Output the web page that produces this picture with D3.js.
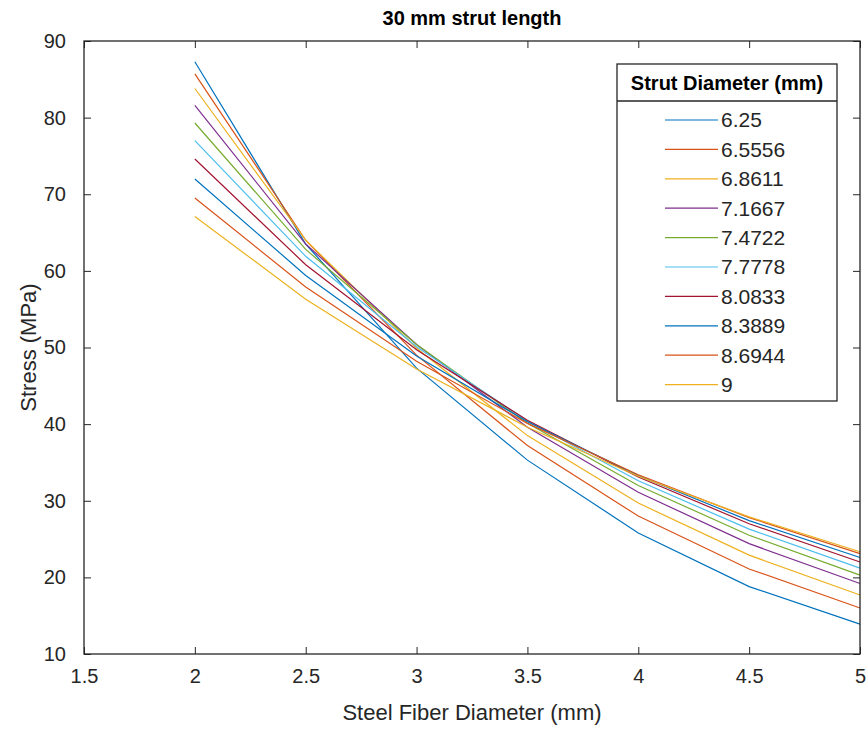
<!DOCTYPE html>
<html><head><meta charset="utf-8">
<script src="https://cdn.jsdelivr.net/npm/d3@7/dist/d3.min.js"></script>
<style>body{margin:0;background:#fff}svg{display:block;font-family:Arial,"Liberation Sans",sans-serif}</style>
</head><body><svg id="c" width="868" height="734"></svg>
<script>
const fiberDiameters = [2, 2.5, 3, 3.5, 4, 4.5, 5];
const strutDiameters = ["6.25","6.5556","6.8611","7.1667","7.4722","7.7778","8.0833","8.3889","8.6944","9"];
const s625  = [87.3, 63.5, 47.3, 35.3, 25.8, 18.8, 13.9];
const s6556 = [85.7, 64.0, 49.0, 37.2, 28.0, 21.1, 16.0];
const s6861 = [83.8, 64.0, 49.9, 38.5, 29.7, 22.9, 17.7];
const s7167 = [81.6, 63.5, 50.4, 39.6, 31.1, 24.4, 19.2];
const s7472 = [79.3, 62.8, 50.4, 40.1, 32.0, 25.5, 20.3];
const s7778 = [77.0, 61.9, 50.1, 40.4, 32.6, 26.3, 21.2];
const s8083 = [74.6, 60.8, 49.7, 40.5, 33.1, 27.0, 22.0];
const s8389 = [72.0, 59.4, 48.9, 40.3, 33.3, 27.4, 22.6];
const s8694 = [69.5, 57.9, 48.2, 40.1, 33.4, 27.8, 23.1];
const s9    = [67.1, 56.3, 47.2, 39.6, 33.2, 27.9, 23.35];
const seriesValues = [s625, s6556, s6861, s7167, s7472, s7778, s8083, s8389, s8694, s9];
const colors = ["#0072BD","#D95319","#EDB120","#7E2F8E","#77AC30","#4DBEEE","#A2142F","#0072BD","#D95319","#EDB120"];
const xTicks = [1.5, 2, 2.5, 3, 3.5, 4, 4.5, 5];
const yTicks = [10, 20, 30, 40, 50, 60, 70, 80, 90];

const svg = d3.select("#c");
const L = 84, R = 860, T = 41, B = 654;
const x = d3.scaleLinear().domain([1.5, 5]).range([L, R]);
const y = d3.scaleLinear().domain([10, 90]).range([B, T]);
const axisColor = "#262626";
const tickLen = 7;

// data lines
const line = d3.line().x((d, i) => x(fiberDiameters[i])).y(d => y(d));
svg.append("g").selectAll("path").data(seriesValues).join("path")
  .attr("d", d => line(d)).attr("fill", "none")
  .attr("stroke", (d, i) => colors[i]).attr("stroke-width", 1.2);

// axes
function styleAxis(g) {
  g.select(".domain").remove();
  g.selectAll(".tick line").attr("stroke", axisColor).attr("stroke-width", 1);
  g.selectAll(".tick text").attr("fill", axisColor).attr("font-size", 20)
   .attr("font-family", "Arial, 'Liberation Sans', sans-serif");
}
const gx = svg.append("g").attr("transform", `translate(0,${B})`)
  .call(d3.axisBottom(x).tickValues(xTicks).tickFormat(d3.format("")).tickSizeInner(-tickLen).tickSizeOuter(0).tickPadding(tickLen + 8));
styleAxis(gx);
gx.selectAll(".tick text").attr("dy", "0.71em");
const gxt = svg.append("g").attr("transform", `translate(0,${T})`)
  .call(d3.axisTop(x).tickValues(xTicks).tickFormat("").tickSizeInner(-tickLen).tickSizeOuter(0));
styleAxis(gxt);
const gy = svg.append("g").attr("transform", `translate(${L},0)`)
  .call(d3.axisLeft(y).tickValues(yTicks).tickFormat(d3.format("")).tickSizeInner(-tickLen).tickSizeOuter(0).tickPadding(tickLen + 11));
styleAxis(gy);
const gyr = svg.append("g").attr("transform", `translate(${R},0)`)
  .call(d3.axisRight(y).tickValues(yTicks).tickFormat("").tickSizeInner(-tickLen).tickSizeOuter(0));
styleAxis(gyr);

svg.append("rect").attr("x", L).attr("y", T).attr("width", R - L).attr("height", B - T)
  .attr("fill", "none").attr("stroke", axisColor).attr("stroke-width", 1.3);

// title & labels
svg.append("text").attr("x", (L + R) / 2).attr("y", 25).attr("text-anchor", "middle")
  .attr("font-size", 20).attr("font-weight", "bold").attr("fill", "#000").text("30 mm strut length");
svg.append("text").attr("x", (L + R) / 2).attr("y", 720).attr("text-anchor", "middle")
  .attr("font-size", 22).attr("fill", axisColor).text("Steel Fiber Diameter (mm)");
svg.append("text").attr("transform", `translate(36,${(T + B) / 2}) rotate(-90)`).attr("text-anchor", "middle")
  .attr("font-size", 22).attr("fill", axisColor).text("Stress (MPa)");

// legend
const lg = svg.append("g");
const lx0 = 617, lx1 = 837, ly0 = 64, lySep = 101, ly1 = 401;
lg.append("rect").attr("x", lx0).attr("y", ly0).attr("width", lx1 - lx0).attr("height", ly1 - ly0)
  .attr("fill", "#fff").attr("stroke", axisColor).attr("stroke-width", 1.3);
lg.append("line").attr("x1", lx0).attr("x2", lx1).attr("y1", lySep).attr("y2", lySep)
  .attr("stroke", axisColor).attr("stroke-width", 1.3);
lg.append("text").attr("x", (lx0 + lx1) / 2).attr("y", 90).attr("text-anchor", "middle")
  .attr("font-size", 20).attr("font-weight", "bold").attr("fill", "#000").text("Strut Diameter (mm)");
const ent = lg.selectAll("g.e").data(strutDiameters).join("g").attr("class", "e")
  .attr("transform", (d, i) => `translate(0,${120 + i * 29.4})`);
ent.append("line").attr("x1", 665).attr("x2", 718).attr("y1", 0).attr("y2", 0)
  .attr("stroke", (d, i) => colors[i]).attr("stroke-width", 1.2);
ent.append("text").attr("x", 721).attr("y", 0).attr("dy", "0.35em")
  .attr("font-size", 21).attr("fill", axisColor).text(d => d);
</script></body></html>
